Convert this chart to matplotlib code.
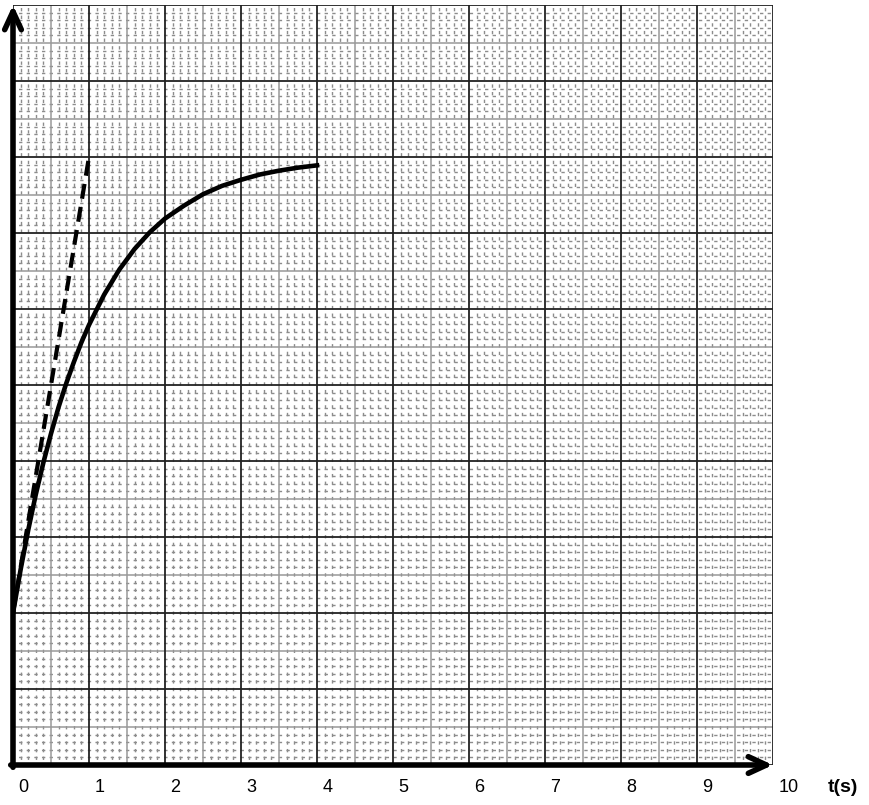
import numpy as np
import matplotlib.pyplot as plt

# values (grid units)
t_curve = [0, 0.1, 0.2, 0.3, 0.4, 0.5, 0.6, 0.7, 0.8, 0.9, 1.0, 1.2, 1.4, 1.6, 1.8,
           2.0, 2.25, 2.5, 2.75, 3.0, 3.25, 3.5, 3.75, 4.0]
u_curve = [2.0, 2.57, 3.09, 3.56, 3.98, 4.36, 4.71, 5.02, 5.30, 5.56, 5.79, 6.19, 6.52,
           6.79, 7.01, 7.19, 7.36, 7.51, 7.62, 7.70, 7.77, 7.82, 7.86, 7.89]
t_tangent = [0, 1.0]
u_tangent = [2.0, 8.0]
xlabels = ['0', '1', '2', '3', '4', '5', '6', '7', '8', '9', '10']

fig = plt.figure(figsize=(8.7, 8.05), dpi=100)
ax = fig.add_axes([13/870, 40/805, 760/870, 760/805])
ax.set_xlim(0, 10)
ax.set_ylim(0, 10)
ax.axis('off')

# graph paper: tenths dashed, halves gray, units dark
for i in range(101):
    v = i/10
    if i % 10 == 0:
        kw = dict(color='#222222', lw=1.3, zorder=3)
    elif i % 5 == 0:
        kw = dict(color='#999999', lw=1.1, zorder=2)
    else:
        kw = dict(color='#8c8c8c', lw=1.0, ls=(1.5, (2.4, 3.1)), zorder=1)
    ax.axvline(v, **kw)
    ax.axhline(v, **kw)

ax.plot(t_curve, u_curve, color='black', lw=3.3, zorder=5, solid_joinstyle='round')
ax.plot(t_tangent, u_tangent, color='black', lw=3.0, ls=(0, (3.6, 2.0)), zorder=5)

# axes arrows
ap = dict(arrowstyle='->,head_length=1.3,head_width=0.6', lw=4, color='black',
          shrinkA=0, shrinkB=0)
ax.annotate('', xy=(0, 1.0), xytext=(0, -0.003), xycoords='axes fraction',
            arrowprops=ap, annotation_clip=False, zorder=6)
ax.annotate('', xy=(1.0, 0), xytext=(-0.003, 0), xycoords='axes fraction',
            arrowprops=ap, annotation_clip=False, zorder=6)

for i, lab in enumerate(xlabels):
    ax.text(i + 0.07, -0.29, lab, ha='left', va='center', fontsize=13,
            family='Liberation Sans', clip_on=False)
ax.text(10.72, -0.29, 't(s)', ha='left', va='center', fontsize=14,
        fontweight='bold', family='Liberation Sans', clip_on=False)

fig.savefig('out.png', dpi=100)
